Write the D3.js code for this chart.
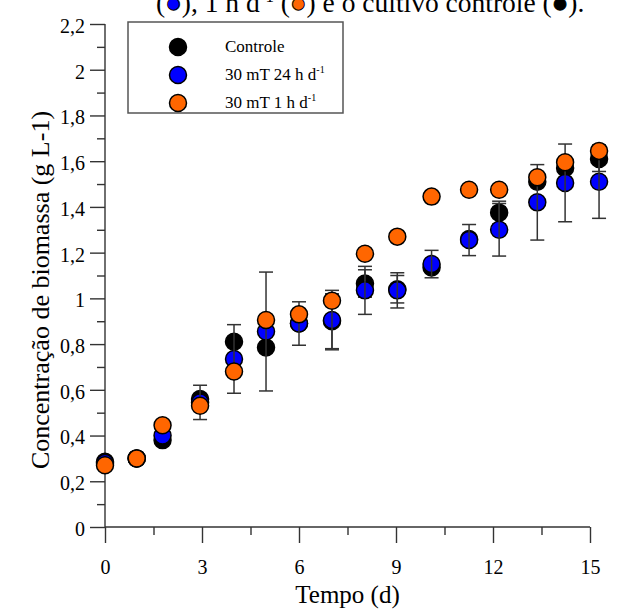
<!DOCTYPE html>
<html><head><meta charset="utf-8">
<script src="https://cdn.jsdelivr.net/npm/d3@7"></script>
<style>
html,body{margin:0;padding:0;background:#fff;overflow:hidden}
svg{display:block;font-family:"Liberation Serif","Times New Roman",serif}
</style></head>
<body><svg id="c" width="621" height="609"></svg>
<script>
// ---- data ----
const days      = [0, 0.98, 1.78, 2.94, 3.99, 4.98, 6.0, 7.02, 8.04, 9.04, 10.1, 11.26, 12.19, 13.37, 14.23, 15.28];
const controle  = [0.285, 0.30, 0.38, 0.56, 0.81, 0.785, 0.89, 0.90, 1.065, 1.04, 1.135, 1.26, 1.375, 1.51, 1.57, 1.61];
const campo24h  = [0.28, 0.30, 0.40, 0.545, 0.735, 0.855, 0.89, 0.905, 1.035, 1.035, 1.15, 1.255, 1.30, 1.42, 1.505, 1.51];
const campo1h   = [0.27, 0.30, 0.445, 0.53, 0.68, 0.905, 0.93, 0.99, 1.195, 1.27, 1.445, 1.475, 1.475, 1.53, 1.595, 1.645];
const errControle = [0, 0, 0, 0, 0, 0, 0, 0.12, 0.06, 0.06, 0, 0, 0.05, 0, 0, 0.055];
const err24h      = [0, 0, 0, 0.075, 0.15, 0.26, 0.095, 0.13, 0.105, 0.077, 0.06, 0.068, 0.115, 0.165, 0.17, 0.16];
const err1h       = [0, 0, 0, 0, 0, 0, 0, 0, 0, 0, 0, 0, 0, 0, 0, 0];
const seriesNames = ["Controle", "30 mT 24 h d", "30 mT 1 h d"];
const seriesSup   = ["", "-1", "-1"];
const seriesColors = ["#000000", "#0000FF", "#FF6600"];
const xTicks = [0, 3, 6, 9, 12, 15];
const xMinor = [1.5, 4.5, 7.5, 10.5, 13.5];
const yTicks = [0, 0.2, 0.4, 0.6, 0.8, 1, 1.2, 1.4, 1.6, 1.8, 2, 2.2];
const yMinor = [0.1, 0.3, 0.5, 0.7, 0.9, 1.1, 1.3, 1.5, 1.7, 1.9, 2.1];
const xTitle = "Tempo (d)";
const yTitle = "Concentração de biomassa (g L-1)";

// ---- drawing ----
const svg = d3.select("#c");
const x = d3.scaleLinear().domain([0, 15]).range([105, 590]);
const y = d3.scaleLinear().domain([0, 2.2]).range([527, 24]);
const fmt = v => d3.format("~g")(+v.toFixed(1)).replace(".", ",");

// caption fragment cut at the top
const cap = svg.append("text").attr("x", 156).attr("y", 12).attr("font-size", 27.5).attr("fill", "#000");
const capParts = [["(", null], ["●", 1], ["), 1 h d", null], ["-1", "sup"], [" (", null], ["●", 2], [") e o cultivo controle (", null], ["●", 0], [").", null]];
capParts.forEach(([t, k]) => {
  const ts = cap.append("tspan").text(t);
  if (k === "sup") ts.attr("font-size", 17).attr("dy", -10);
  else if (k !== null) { ts.attr("fill", seriesColors[k]).attr("stroke", "#000").attr("stroke-width", 1); }
  if (t === " (") ts.attr("dy", 10);
});

// axes
const gx = svg.append("g").attr("transform", "translate(0,527)");
gx.call(d3.axisBottom(x).tickValues(xTicks).tickSize(16).tickPadding(17).tickFormat(d => d));
svg.append("g").attr("transform", "translate(0,527)")
  .call(d3.axisBottom(x).tickValues(xMinor).tickSize(8).tickFormat(""))
  .select(".domain").remove();
gx.select(".domain").attr("d", `M${x(0)},0H${x(15)}`);

const gy = svg.append("g").attr("transform", "translate(105,0)");
gy.call(d3.axisLeft(y).tickValues(yTicks).tickSize(15).tickPadding(5).tickFormat(fmt));
svg.append("g").attr("transform", "translate(105,0)")
  .call(d3.axisLeft(y).tickValues(yMinor).tickSize(8).tickFormat(""))
  .select(".domain").remove();
gy.select(".domain").attr("d", `M0,${y(2.2)}V${y(0)}`);

svg.selectAll(".tick line, .domain").attr("stroke", "#333").attr("stroke-width", 1.4);
svg.selectAll(".tick text").attr("font-family", "Liberation Serif, serif").attr("font-size", 20).attr("fill", "#000");
gy.selectAll(".tick text").attr("dy", "0.42em");

svg.append("text").attr("x", (x(0) + x(15)) / 2).attr("y", 603).attr("text-anchor", "middle")
  .attr("font-size", 25).text(xTitle);
svg.append("text").attr("transform", `translate(49,290) rotate(-90)`)
  .attr("text-anchor", "middle").attr("font-size", 26).text(yTitle);

// series
const all = [controle, campo24h, campo1h];
const errs = [errControle, err24h, err1h];
all.forEach((vals, s) => {
  const data = days.map((d, i) => ({ d, v: vals[i], e: errs[s][i] }));
  const g = svg.append("g");
  g.selectAll("circle").data(data).join("circle")
    .attr("cx", p => x(p.d)).attr("cy", p => y(p.v)).attr("r", 8.5)
    .attr("fill", seriesColors[s]).attr("stroke", "#000").attr("stroke-width", 1.5);
  const eb = g.selectAll("g.eb").data(data.filter(p => p.e > 0)).join("g").attr("class", "eb")
    .attr("stroke", "#333").attr("stroke-width", 1.5);
  eb.append("line").attr("x1", p => x(p.d)).attr("x2", p => x(p.d))
    .attr("y1", p => y(p.v + p.e)).attr("y2", p => y(p.v - p.e));
  eb.append("line").attr("x1", p => x(p.d) - 7).attr("x2", p => x(p.d) + 7)
    .attr("y1", p => y(p.v + p.e)).attr("y2", p => y(p.v + p.e));
  eb.append("line").attr("x1", p => x(p.d) - 7).attr("x2", p => x(p.d) + 7)
    .attr("y1", p => y(p.v - p.e)).attr("y2", p => y(p.v - p.e));
});

// legend
const lg = svg.append("g");
lg.append("rect").attr("x", 128).attr("y", 22).attr("width", 215).attr("height", 91)
  .attr("fill", "#fff").attr("stroke", "#555").attr("stroke-width", 1.5);
seriesNames.forEach((n, i) => {
  const cy = 47 + i * 28;
  lg.append("circle").attr("cx", 178).attr("cy", cy).attr("r", 8.5)
    .attr("fill", seriesColors[i]).attr("stroke", "#000").attr("stroke-width", 1.5);
  const t = lg.append("text").attr("x", 225).attr("y", cy + 5).attr("font-size", 17).text(n);
  if (seriesSup[i]) t.append("tspan").attr("font-size", 10).attr("dy", -7).text(seriesSup[i]);
});
</script></body></html>
